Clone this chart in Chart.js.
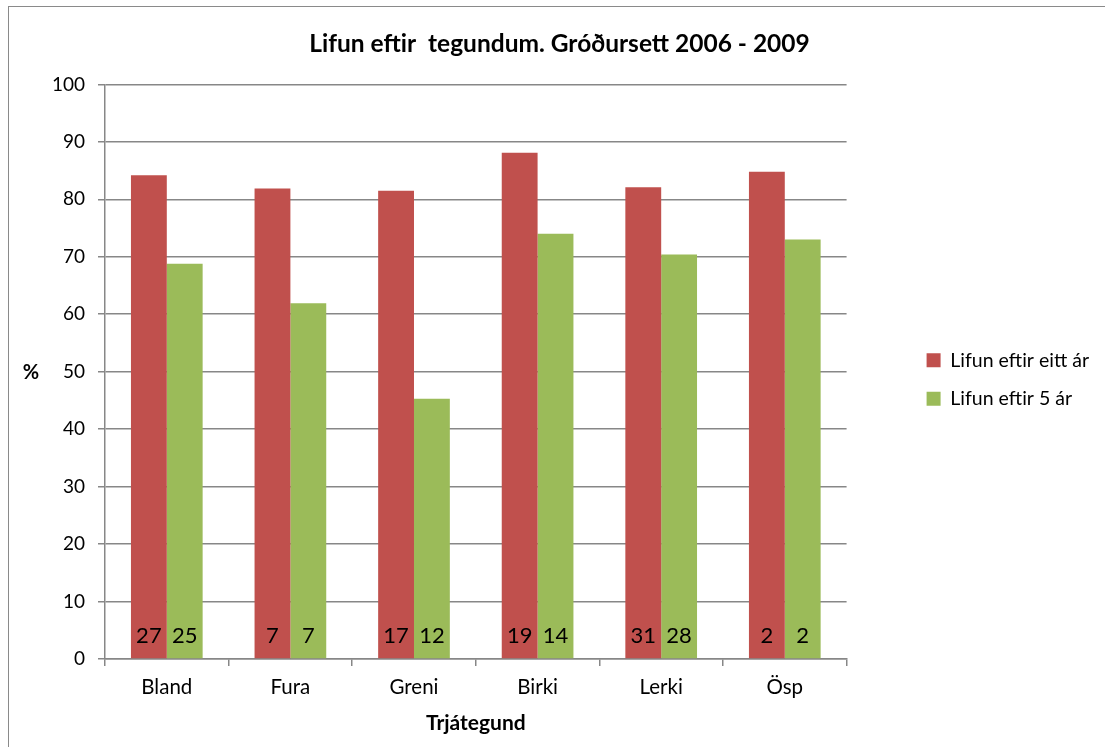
<!DOCTYPE html>
<html>
<head>
<meta charset="utf-8">
<script src="https://cdn.jsdelivr.net/npm/chart.js@4"></script>
<style>
  html, body { margin: 0; padding: 0; background: #fff; overflow: hidden; }
  #wrap { position: relative; width: 1105px; height: 747px; }
  #frame { position: absolute; left: 8px; top: 6px; width: 1120px; height: 780px; border: 1px solid #8a8a8a; box-sizing: border-box; pointer-events: none; }
</style>
</head>
<body>
<div id="wrap">
  <canvas id="chart" width="1105" height="747"></canvas>
  <div id="frame"></div>
</div>
<script>
const categories = ['Bland', 'Fura', 'Greni', 'Birki', 'Lerki', 'Ösp']
const afterOneYear = [84.2, 81.9, 81.5, 88.1, 82.1, 84.8]
const afterFiveYears = [68.8, 61.9, 45.3, 74.0, 70.4, 73.0]
// number of plots behind each bar, written at the foot of the bar
const countsOneYear = [27, 7, 17, 19, 31, 2]
const countsFiveYears = [25, 7, 12, 14, 28, 2]
const yTicks = [0, 10, 20, 30, 40, 50, 60, 70, 80, 90, 100]

const FONT = 'Lato'
const gridColor = '#878787'

const countLabels = {
  id: 'countLabels',
  afterDatasetsDraw(chart) {
    const ctx = chart.ctx
    const zero = chart.scales.y.getPixelForValue(0)
    const counts = [countsOneYear, countsFiveYears]
    ctx.save()
    ctx.font = '22px ' + FONT
    ctx.fillStyle = '#000'
    ctx.textAlign = 'center'
    ctx.textBaseline = 'alphabetic'
    counts.forEach((arr, d) => {
      chart.getDatasetMeta(d).data.forEach((bar, i) => {
        ctx.fillText(String(arr[i]), bar.x, zero - 16)
      })
    })
    ctx.restore()
  },
}

const percentTitle = {
  id: 'percentTitle',
  afterDraw(chart) {
    const ctx = chart.ctx
    ctx.save()
    ctx.font = 'bold 20px ' + FONT
    ctx.fillStyle = '#000'
    ctx.textAlign = 'center'
    ctx.textBaseline = 'middle'
    ctx.fillText('%', 31, 373)
    ctx.restore()
  },
}

new Chart(document.getElementById('chart'), {
  type: 'bar',
  data: {
    labels: categories,
    datasets: [
      {
        label: 'Lifun eftir eitt ár',
        data: afterOneYear,
        backgroundColor: '#C0504D',
      },
      {
        label: 'Lifun eftir 5 ár',
        data: afterFiveYears,
        backgroundColor: '#9BBB59',
      },
    ],
  },
  options: {
    responsive: false,
    animation: false,
    categoryPercentage: 0.58,
    barPercentage: 1,
    layout: { padding: { top: 0, left: 20, right: 6, bottom: 0 } },
    plugins: {
      tooltip: { enabled: false },
      title: {
        display: true,
        text: 'Lifun eftir  tegundum. Gróðursett 2006 - 2009',
        color: '#000',
        font: { family: FONT, size: 24.5, weight: 'bold' },
        padding: { top: 29, bottom: 26 },
      },
      legend: {
        position: 'right',
        maxWidth: 300,
        title: {
          display: true,
          text: ' ',
          font: { size: 1 },
          padding: { top: 0, bottom: 11 },
        },
        labels: {
          color: '#000',
          font: { family: FONT, size: 19.5 },
          boxWidth: 14,
          boxHeight: 14,
          padding: 19,
        },
      },
    },
    scales: {
      x: {
        afterFit(scale) { scale.height = 88 },
        grid: {
          drawOnChartArea: false,
          color: gridColor,
          lineWidth: 1.5,
          tickLength: 7,
          offset: true,
        },
        border: { color: gridColor, width: 1.5 },
        ticks: {
          color: '#000',
          font: { family: FONT, size: 20.5 },
          padding: 9,
        },
        title: {
          display: true,
          text: 'Trjátegund',
          color: '#000',
          font: { family: FONT, size: 21, weight: 'bold' },
          padding: { top: 4, bottom: 11 },
        },
      },
      y: {
        min: 0,
        max: 100,
        afterFit(scale) { scale.width = 85 },
        afterBuildTicks(scale) { scale.ticks = yTicks.map((v) => ({ value: v })) },
        grid: { color: gridColor, lineWidth: 1.5, tickLength: 7 },
        border: { color: gridColor, width: 1.5 },
        ticks: {
          color: '#000',
          font: { family: FONT, size: 19 },
          padding: 13,
        },
      },
      gap: {
        position: 'right',
        afterFit(scale) { scale.width = 61 },
        grid: { display: false },
        border: { display: false },
        ticks: { display: false },
      },
    },
  },
  plugins: [countLabels, percentTitle],
})
</script>
</body>
</html>
